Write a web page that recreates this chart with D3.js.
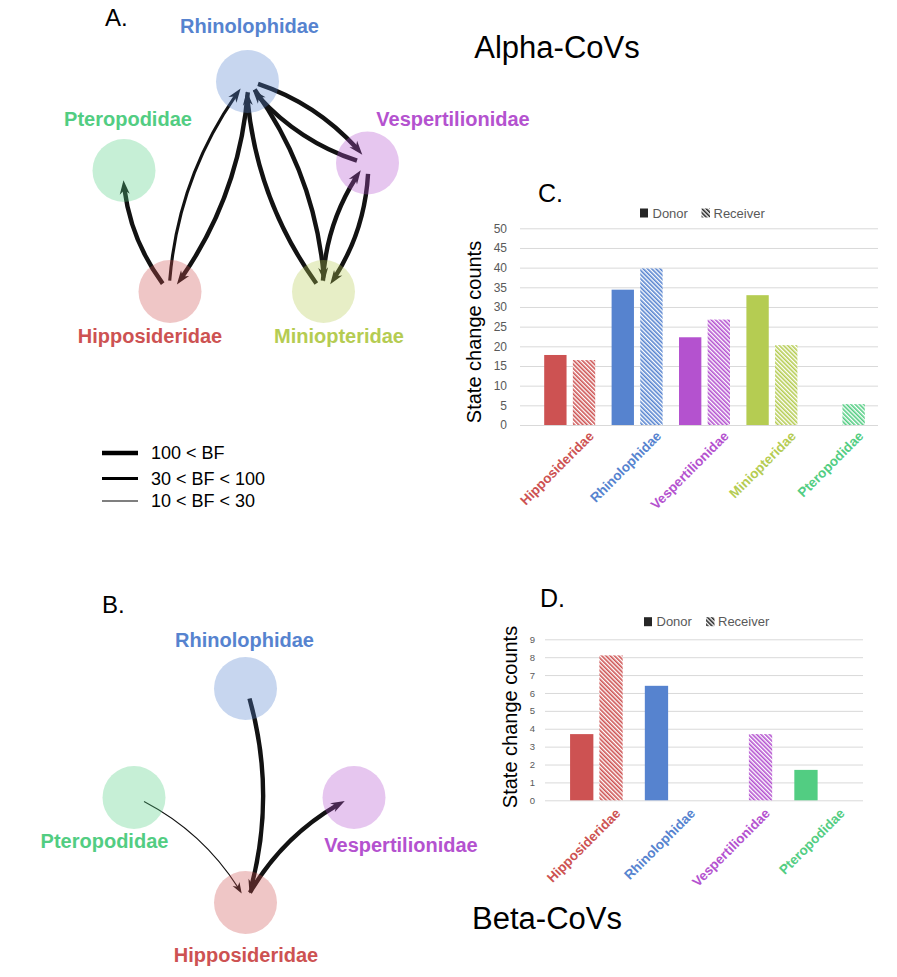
<!DOCTYPE html>
<html><head><meta charset="utf-8">
<script src="https://cdn.jsdelivr.net/npm/d3@7"></script>
<style>body{margin:0;background:#fff}svg{display:block}</style>
</head><body>
<svg id="fig" width="897" height="977"></svg>
<script>
// ================= DATA =================
const families      = ["Hipposideridae","Rhinolophidae","Vespertilionidae","Miniopteridae","Pteropodidae"];
const familyColors  = ["#cd5252","#5683cf","#b452cf","#b5cc52","#52cd82"];

// Panel C (Alpha-CoVs) state change counts
const alphaCategories = ["Hipposideridae","Rhinolophidae","Vespertilionidae","Miniopteridae","Pteropodidae"];
const alphaDonor      = [17.8, 34.4, 22.3, 33.0, 0];
const alphaReceiver   = [16.5, 39.8, 26.8, 20.3, 5.3];
const alphaTicks      = [0,5,10,15,20,25,30,35,40,45,50];

// Panel D (Beta-CoVs) state change counts
const betaCategories = ["Hipposideridae","Rhinolophidae","Vespertilionidae","Pteropodidae"];
const betaDonor      = [3.7, 6.4, 0, 1.7];
const betaReceiver   = [8.1, 0, 3.7, 0];
const betaTicks      = [0,1,2,3,4,5,6,7,8,9];

const seriesNames = ["Donor","Receiver"];

// Bayes factor support classes
const bfClasses = ["100 < BF","30 < BF < 100","10 < BF < 30"];

// Panel A transitions (Alpha-CoVs)
const alphaFrom = ["Hipposideridae","Hipposideridae","Rhinolophidae","Miniopteridae","Rhinolophidae","Rhinolophidae","Vespertilionidae","Miniopteridae","Vespertilionidae"];
const alphaTo   = ["Pteropodidae","Rhinolophidae","Hipposideridae","Rhinolophidae","Miniopteridae","Vespertilionidae","Rhinolophidae","Vespertilionidae","Miniopteridae"];
const alphaBF   = ["100 < BF","30 < BF < 100","100 < BF","100 < BF","100 < BF","100 < BF","100 < BF","100 < BF","100 < BF"];

// Panel B transitions (Beta-CoVs)
const betaFrom = ["Rhinolophidae","Pteropodidae","Hipposideridae"];
const betaTo   = ["Hipposideridae","Hipposideridae","Vespertilionidae"];
const betaBF   = ["100 < BF","10 < BF < 30","100 < BF"];

// ================= LAYOUT =================
const layoutA = {
  Rhinolophidae:   {c:[247.5,81.5],  l:[249.5,33]},
  Pteropodidae:    {c:[124,170.5],   l:[128,126]},
  Vespertilionidae:{c:[367.5,163],   l:[453,126]},
  Hipposideridae:  {c:[170,291.5],   l:[150,343]},
  Miniopteridae:   {c:[323.5,291.5], l:[339,343]}
};
const layoutB = {
  Rhinolophidae:   {c:[245.5,688.5], l:[244.5,647]},
  Pteropodidae:    {c:[134,797.5],   l:[104.5,848]},
  Vespertilionidae:{c:[354,797.5],   l:[401,851.5]},
  Hipposideridae:  {c:[245.5,902.5], l:[246,961.5]}
};
const nodeR = 31.5;

const svg = d3.select("#fig");
svg.append("rect").attr("width",897).attr("height",977).attr("fill","#fff");
const defs = svg.append("defs");
const colorOf = d3.scaleOrdinal(families, familyColors);
const widthOf = d3.scaleOrdinal(bfClasses, [4.4, 3.1, 1.1]);
const FONT = "'Liberation Sans', Arial, Helvetica, sans-serif";

// hatch patterns
families.concat(["legend"]).forEach((f,i)=>{
  const col = f==="legend" ? "#262626" : colorOf(f);
  const p = defs.append("pattern").attr("id","hatch"+i)
    .attr("patternUnits","userSpaceOnUse").attr("width",3).attr("height",10)
    .attr("patternTransform","rotate(-45)");
  p.append("rect").attr("width",3).attr("height",10).attr("fill","#fff");
  p.append("rect").attr("width",1.6).attr("height",10).attr("fill",col);
});
const hatchId = f => "url(#hatch"+(f==="legend"?families.length:families.indexOf(f))+")";

// ================= NETWORK =================
function drawNetwork(layout, from, to, bf){
  const g = svg.append("g");
  const eg = g.append("g");
  from.forEach((s,i)=>{
    const c0 = layout[s].c, c2 = layout[to[i]].c;
    const ddx = c2[0]-c0[0], ddy = c2[1]-c0[1], LL = Math.hypot(ddx,ddy);
    const u0 = [ddx/LL, ddy/LL], nL = [u0[1], -u0[0]];
    const off = 4, ts = 10, te = 9;
    const P0 = [c0[0]+u0[0]*ts+nL[0]*off, c0[1]+u0[1]*ts+nL[1]*off];
    const P2 = [c2[0]-u0[0]*te+nL[0]*off, c2[1]-u0[1]*te+nL[1]*off];
    const dx = P2[0]-P0[0], dy = P2[1]-P0[1], L = Math.hypot(dx,dy);
    const k = 0.14;
    const P1 = [(P0[0]+P2[0])/2 + k*dy, (P0[1]+P2[1])/2 - k*dx];
    const B = t => [ (1-t)*(1-t)*P0[0]+2*(1-t)*t*P1[0]+t*t*P2[0],
                     (1-t)*(1-t)*P0[1]+2*(1-t)*t*P1[1]+t*t*P2[1] ];
    const D = t => [ 2*(1-t)*(P1[0]-P0[0])+2*t*(P2[0]-P1[0]),
                     2*(1-t)*(P1[1]-P0[1])+2*t*(P2[1]-P1[1]) ];
    const w = widthOf(bf[i]);
    const aLen = w>2 ? 14 : 11, aHw = w>2 ? 5 : 4;
    const t1 = 1 - (aLen*0.6)/L;
    const C = [ (1-t1)*P0[0] + t1*P1[0], (1-t1)*P0[1] + t1*P1[1] ];
    const E = B(t1);
    const path = d3.path();
    path.moveTo(P0[0],P0[1]); path.quadraticCurveTo(C[0],C[1],E[0],E[1]);
    eg.append("path").attr("d",path.toString()).attr("fill","none")
      .attr("stroke","#121212").attr("stroke-width",w);
    const T = P2, d = D(1), dl = Math.hypot(d[0],d[1]);
    const u = [d[0]/dl, d[1]/dl], n = [-u[1], u[0]];
    const ah = d3.path();
    ah.moveTo(T[0],T[1]);
    ah.lineTo(T[0]-u[0]*aLen+n[0]*aHw, T[1]-u[1]*aLen+n[1]*aHw);
    ah.lineTo(T[0]-u[0]*aLen*0.7, T[1]-u[1]*aLen*0.7);
    ah.lineTo(T[0]-u[0]*aLen-n[0]*aHw, T[1]-u[1]*aLen-n[1]*aHw);
    ah.closePath();
    eg.append("path").attr("d",ah.toString()).attr("fill","#121212");
  });
  const names = Object.keys(layout);
  g.append("g").selectAll("circle").data(names).join("circle")
    .attr("cx",d=>layout[d].c[0]).attr("cy",d=>layout[d].c[1]).attr("r",nodeR)
    .attr("fill",d=>colorOf(d)).attr("fill-opacity",0.33);
  g.append("g").selectAll("text").data(names).join("text")
    .attr("x",d=>layout[d].l[0]).attr("y",d=>layout[d].l[1])
    .attr("text-anchor","middle").attr("font-family",FONT).attr("font-weight","bold")
    .attr("font-size",20).attr("fill",d=>colorOf(d)).text(d=>d);
}
drawNetwork(layoutA, alphaFrom, alphaTo, alphaBF);
drawNetwork(layoutB, betaFrom, betaTo, betaBF);

// panel letters & titles
const txt = (x,y,s,size,anchor)=>svg.append("text").attr("x",x).attr("y",y).attr("font-family",FONT)
  .attr("font-size",size).attr("fill","#000").attr("text-anchor",anchor||"start").text(s);
txt(105,26,"A.",24); txt(102,612.5,"B.",24); txt(538,202,"C.",25); txt(540,607,"D.",25);
txt(557,58,"Alpha-CoVs",31,"middle"); txt(547,929,"Beta-CoVs",31,"middle");

// BF legend
const lg = svg.append("g");
bfClasses.forEach((c,i)=>{
  const y = [453,478.5,501][i];
  lg.append("line").attr("x1",102).attr("x2",138).attr("y1",y).attr("y2",y)
    .attr("stroke","#000").attr("stroke-width",widthOf(c));
  lg.append("text").attr("x",151).attr("y",y+6.3).attr("font-family",FONT).attr("font-size",18)
    .attr("fill","#000").text(c);
});

// ================= BAR CHARTS =================
function drawBars(cfg){
  const g = svg.append("g");
  const y = d3.scaleLinear([0, d3.max(cfg.ticks)], [cfg.yBottom, cfg.yTop]);
  const ax = g.append("g").attr("transform",`translate(${cfg.gx0},0)`)
    .call(d3.axisLeft(y).tickValues(cfg.ticks).tickSize(-(cfg.gx1-cfg.gx0)).tickPadding(cfg.tickPad));
  ax.select(".domain").remove();
  ax.selectAll("line").attr("stroke","#d9d9d9").attr("stroke-width",1);
  ax.selectAll("text").attr("font-family",FONT).attr("font-size",cfg.tickSize).attr("fill","#595959");
  const xg = d3.scaleBand(cfg.cats, [cfg.bx0, cfg.bx1]);
  const xi = d3.scaleBand(seriesNames, [-cfg.groupW/2, cfg.groupW/2]).paddingInner(cfg.innerPad);
  const bars = [];
  cfg.cats.forEach((c,i)=>{
    bars.push({c, s:"Donor", v:cfg.donor[i]});
    bars.push({c, s:"Receiver", v:cfg.receiver[i]});
  });
  g.append("g").selectAll("rect").data(bars.filter(b=>b.v>0)).join("rect")
    .attr("x",b=>xg(b.c)+xg.bandwidth()/2+xi(b.s)).attr("width",xi.bandwidth())
    .attr("y",b=>y(b.v)).attr("height",b=>y(0)-y(b.v))
    .attr("fill",b=>b.s==="Donor"?colorOf(b.c):hatchId(b.c));
  // x labels
  g.append("g").selectAll("text").data(cfg.cats).join("text")
    .attr("transform",c=>`translate(${xg(c)+xg.bandwidth()/2+cfg.lblDx},${cfg.yBottom+cfg.lblDy}) rotate(-45)`)
    .attr("text-anchor","end").attr("font-family",FONT).attr("font-weight","bold")
    .attr("font-size",13.5).attr("fill",c=>colorOf(c)).text(c=>c);
  // y title
  g.append("text").attr("transform",`translate(${cfg.titleX},${cfg.titleY}) rotate(-90)`)
    .attr("text-anchor","middle").attr("font-family",FONT).attr("font-size",20).attr("fill","#000")
    .text("State change counts");
  // legend
  const L = cfg.legend;
  g.append("rect").attr("x",L.x).attr("y",L.y-4.5).attr("width",8).attr("height",9).attr("fill","#262626");
  g.append("text").attr("x",L.x+12.5).attr("y",L.y+4.6).attr("font-family",FONT).attr("font-size",13)
    .attr("fill","#595959").text(seriesNames[0]);
  g.append("rect").attr("x",L.x2).attr("y",L.y-4.5).attr("width",8.5).attr("height",9).attr("fill",hatchId("legend"));
  g.append("text").attr("x",L.x2+12).attr("y",L.y+4.6).attr("font-family",FONT).attr("font-size",13)
    .attr("fill","#595959").text(seriesNames[1]);
}

drawBars({cats:alphaCategories, donor:alphaDonor, receiver:alphaReceiver, ticks:alphaTicks,
  yBottom:425, yTop:228.3, gx0:520, gx1:878, bx0:536, bx1:873, groupW:51, innerPad:0.22,
  tickPad:13, tickSize:12, lblDx:25, lblDy:12, titleX:481, titleY:332,
  legend:{x:640, x2:701.5, y:213}});

drawBars({cats:betaCategories, donor:betaDonor, receiver:betaReceiver, ticks:betaTicks,
  yBottom:800.3, yTop:639.3, gx0:545, gx1:863, bx0:559, bx1:858, groupW:52.6, innerPad:0.205,
  tickPad:10, tickSize:9.5, lblDx:25, lblDy:14, titleX:517, titleY:717,
  legend:{x:644, x2:706, y:621.7}});
</script>
</body></html>
